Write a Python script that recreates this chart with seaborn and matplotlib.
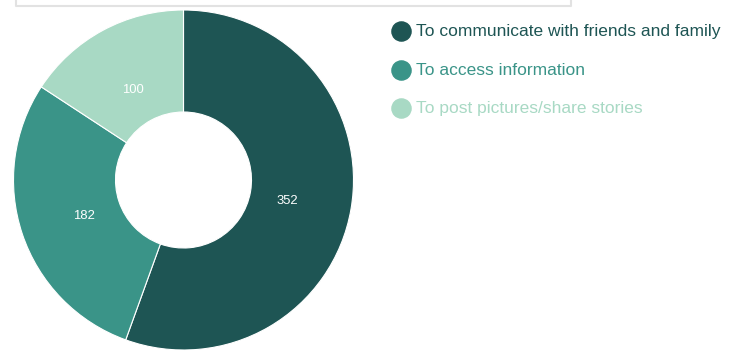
import matplotlib
matplotlib.use("Agg")
import matplotlib.pyplot as plt
import seaborn as sns
from matplotlib.lines import Line2D

categories = ["To communicate with friends and family",
              "To access information",
              "To post pictures/share stories"]
values = [352, 182, 100]
colors = ["#1e5554", "#3a9488", "#a8d9c4"]

sns.set_theme(style="white")
plt.rcParams['font.family'] = ['Liberation Sans', 'DejaVu Sans']

W, H = 739, 352
fig = plt.figure(figsize=(W / 100, H / 100), dpi=100)
ax = fig.add_axes([0, 0, 1, 1])

cx, cy, R = 183.5, H - 180, 170
wedges, texts = ax.pie(values, colors=colors, startangle=90, counterclock=False,
                       center=(cx, cy), radius=R,
                       labels=[str(v) for v in values], labeldistance=0.62,
                       wedgeprops=dict(width=R * 0.6, edgecolor="white", linewidth=0.8),
                       textprops=dict(color="white", fontsize=9.4))
for t in texts:
    t.set_ha("center")
    t.set_va("center")
    x, y = t.get_position()
    t.set_position((x, y - 2.5))

ax.set_xlim(0, W)
ax.set_ylim(0, H)
ax.set_aspect('equal')
ax.axis('off')

# faint box at the top
ax.add_line(Line2D([16, 16, 571, 571], [H, H - 5.5, H - 5.5, H], color="#e2e2e2", lw=1.5))

# legend
ys = [31.5, 70.5, 108]
for cat, col, y in zip(categories, colors, ys):
    ax.scatter([401], [H - y + 0.5], s=190, color=col, zorder=3)
    ax.text(415.5, H - y, cat, color=col, fontsize=12.5, va="center", ha="left")

fig.savefig("out.png", dpi=100)
